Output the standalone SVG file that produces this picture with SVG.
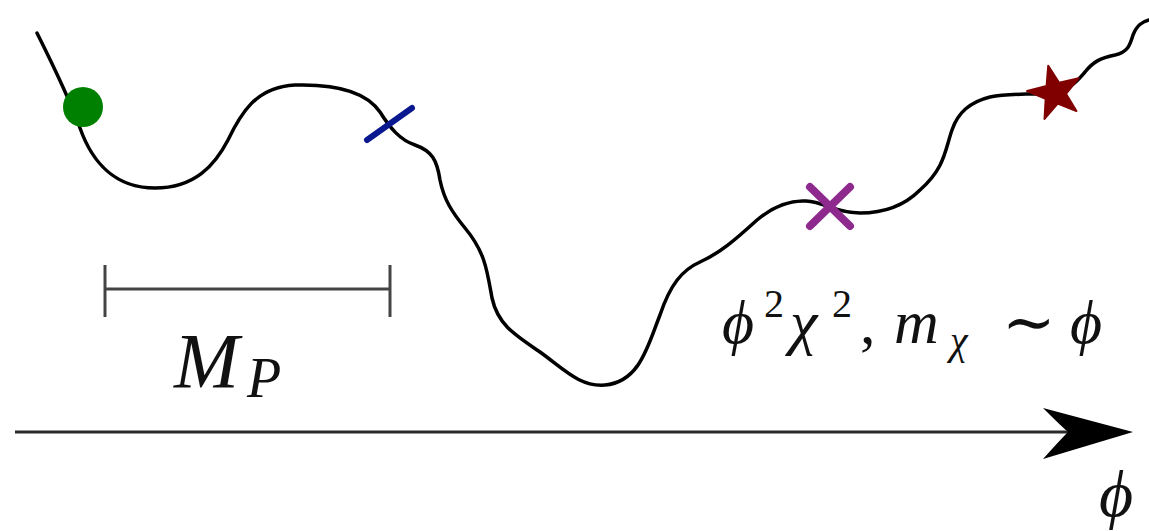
<svg xmlns="http://www.w3.org/2000/svg" width="1149" height="531" viewBox="0 0 1149 531">
  <style>
    .curve { fill: none; stroke: #000; stroke-width: 3.5; stroke-linecap: round; stroke-linejoin: round; }
    .bar { fill: none; stroke: #444; stroke-width: 3; }
    .axis { fill: none; stroke: #2a2a2a; stroke-width: 3; }
    .math { font-family: "Liberation Serif", "DejaVu Serif", serif; font-style: italic; fill: #111; }
    .rm { font-style: normal; }
  </style>
  <rect width="1149" height="531" fill="#fff"/>
  <g id="potential">
    <path class="curve" d="M37,33 C52,63 68,95 80,128 C92,162 115,188 155,188 C195,188 215,165 228,140 C240,115 255,87 295,85 C330,84 365,90 380,112 C390,128 400,140 415,145 C432,151 437,160 440,180 C444,200 452,212 465,228 C485,252 487,270 492,298 C498,325 515,335 540,352 C565,370 580,387 605,385 C640,382 648,345 660,315 C670,285 682,270 700,262 C720,253 735,240 757,220 C775,205 790,200 806,201 C825,202 835,213 860,213 C885,213 905,205 920,190 C945,168 945,150 952,130 C958,112 970,102 990,97 C1010,93 1030,95 1050,93 C1070,91 1078,80 1085,72 C1093,62 1100,58 1115,55 C1128,52 1130,45 1133,35 C1137,25 1142,22 1149,20"/>
  </g>
  <g id="marker-circle">
    <circle cx="83" cy="107" r="20" fill="#008000"/>
  </g>
  <g id="marker-tick">
    <line x1="367" y1="140" x2="412" y2="108" stroke="#0a1890" stroke-width="6" stroke-linecap="round"/>
  </g>
  <g id="marker-cross" stroke="#8e2a8e" stroke-width="8" stroke-linecap="round">
    <line x1="810" y1="187" x2="850" y2="226"/>
    <line x1="850" y1="187" x2="810" y2="226"/>
  </g>
  <g id="marker-star">
    <polygon transform="translate(1055,93) rotate(-14)" fill="#800000" stroke="#800000" stroke-width="2" stroke-linejoin="round" points="0,-28 6.47,-8.9 26.63,-8.65 10.46,3.4 16.46,22.65 0,11 -16.46,22.65 -10.46,3.4 -26.63,-8.65 -6.47,-8.9"/>
  </g>
  <g id="scale-bar">
    <line class="bar" x1="105" y1="289" x2="390" y2="289"/>
    <line class="bar" x1="105" y1="265" x2="105" y2="317"/>
    <line class="bar" x1="390" y1="265" x2="390" y2="317"/>
    <text class="math" font-size="78"><tspan x="174" y="387">M</tspan><tspan x="247" y="397" font-size="56">P</tspan></text>
  </g>
  <g id="coupling-label">
    <text class="math" font-size="62"><tspan x="722" y="343">ϕ</tspan><tspan x="764" y="317" font-size="40" class="rm">2</tspan><tspan x="790" y="343">χ</tspan><tspan x="832" y="317" font-size="40" class="rm">2</tspan><tspan x="860" y="343" class="rm">,</tspan><tspan x="894" y="343">m</tspan><tspan x="950" y="354" font-size="40">χ</tspan><tspan x="1002" y="344" font-size="64" class="rm">∼</tspan><tspan x="1070" y="343">ϕ</tspan></text>
  </g>
  <g id="connectors">
    <line class="axis" x1="15" y1="432" x2="1075" y2="432"/>
    <path d="M1133,432 L1043,408 Q1060,425 1068,432 Q1060,440 1043,459 Z" fill="#000"/>
  </g>
  <g id="axis-label">
    <text class="math" font-size="66" x="1116" y="516" text-anchor="middle">ϕ</text>
  </g>
</svg>
